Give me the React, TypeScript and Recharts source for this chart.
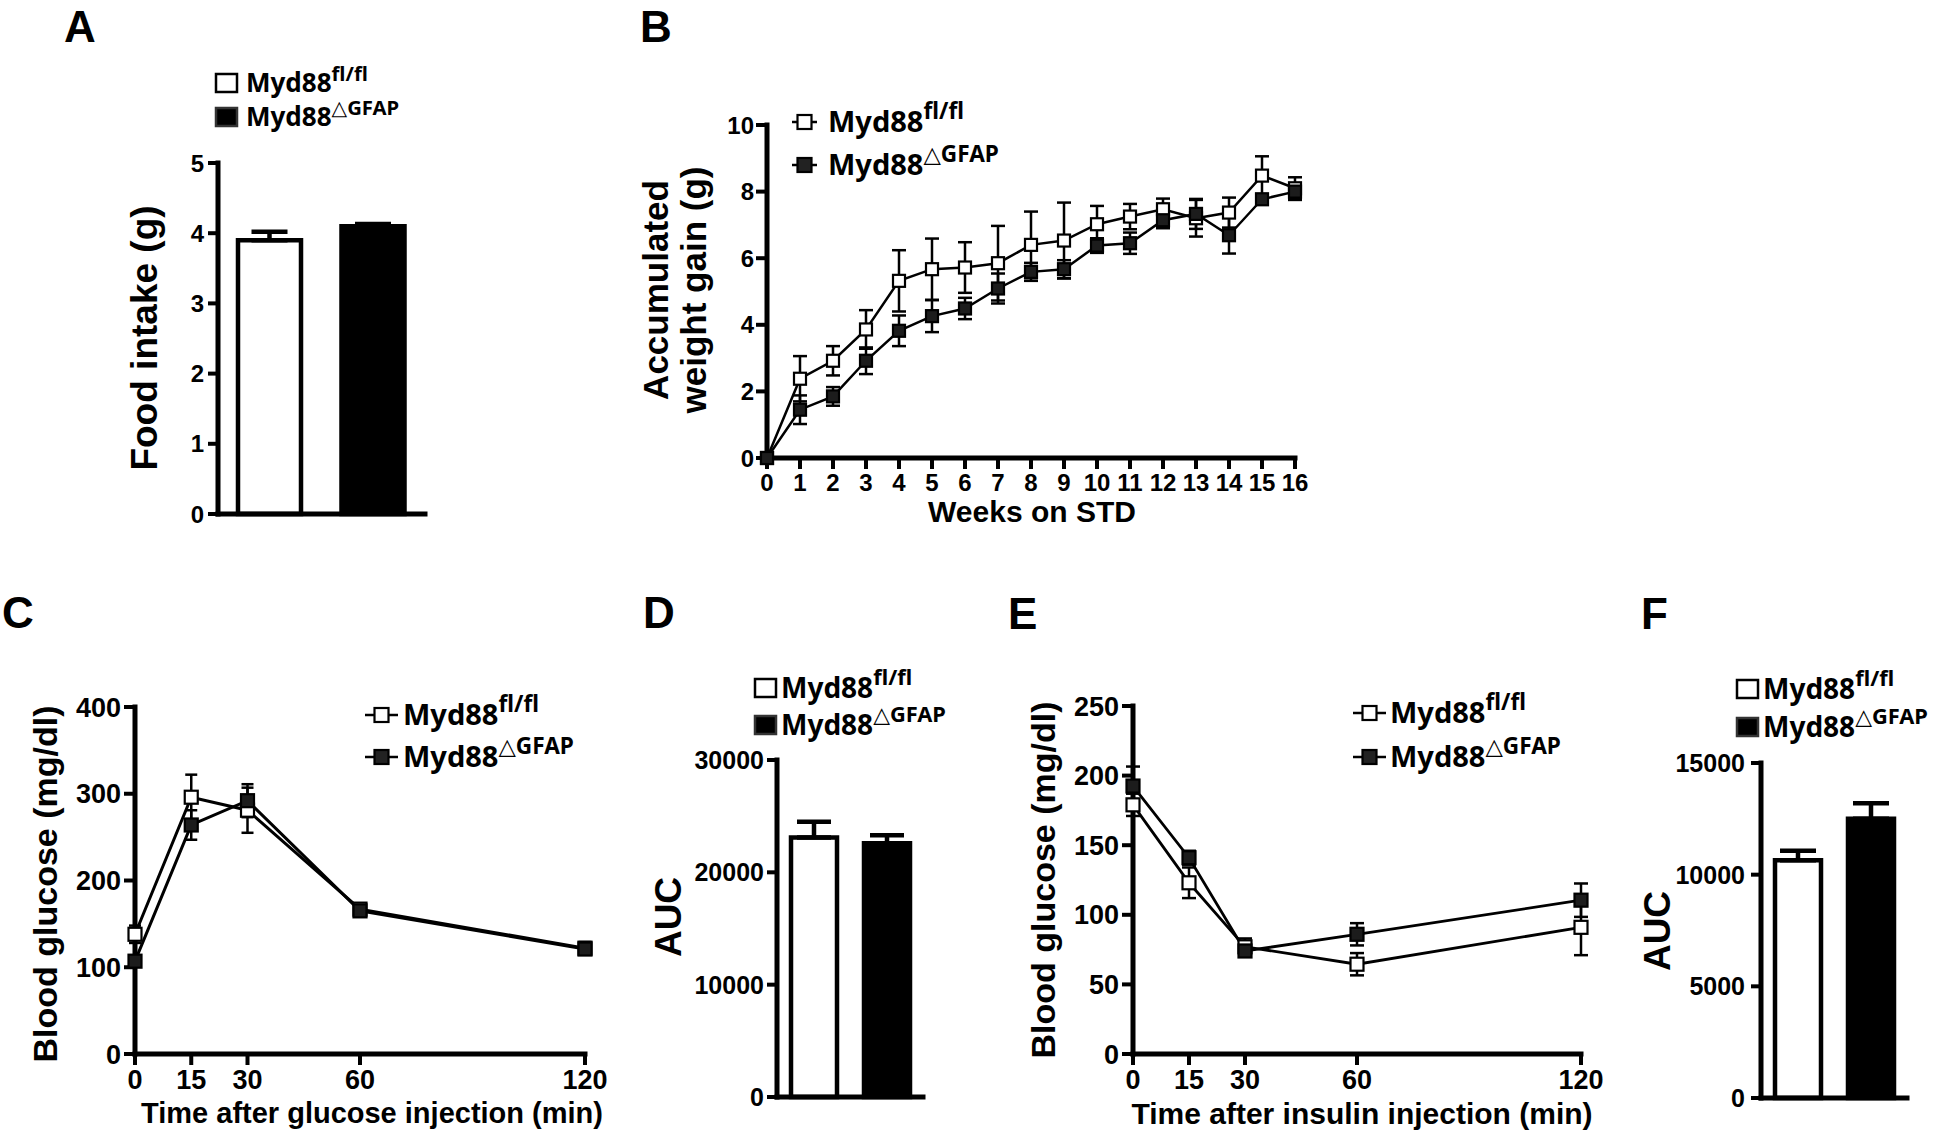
import { BarChart, Bar, Cell, ErrorBar, Label, Line, LineChart, XAxis, YAxis } from 'recharts'

const PAGE_W = 1946
const PAGE_H = 1133
const Y_AXIS_W = 90
const X_AXIS_H = 30
const AXIS_FONT = '"Liberation Sans", Arial, Helvetica, sans-serif'
const KEY_FONT = '"Noto Sans", "Open Sans", "DejaVu Sans", sans-serif'

// genotype superscripts, always written after "Myd88"
const GENOTYPES = ['fl/fl', '△GFAP']

// A - food intake
const FOOD_INTAKE = [3.9, 4.1]
const FOOD_INTAKE_SEM = [0.12, 0.03]
const FOOD_TICKS = [0, 1, 2, 3, 4, 5]

// B - weight gain on STD
const WEEKS = [0, 1, 2, 3, 4, 5, 6, 7, 8, 9, 10, 11, 12, 13, 14, 15, 16]
const WEIGHT_FL = [0, 2.38, 2.92, 3.86, 5.32, 5.67, 5.72, 5.85, 6.4, 6.53, 7.02, 7.25, 7.47, 7.2, 7.37, 8.48, 8.1]
const WEIGHT_FL_SEM = [0, 0.68, 0.44, 0.58, 0.92, 0.92, 0.76, 1.12, 1.0, 1.14, 0.55, 0.38, 0.32, 0.55, 0.45, 0.58, 0.33]
const WEIGHT_KO = [0, 1.45, 1.85, 2.92, 3.82, 4.26, 4.49, 5.09, 5.59, 5.67, 6.38, 6.45, 7.14, 7.33, 6.69, 7.77, 8.0]
const WEIGHT_KO_SEM = [0, 0.43, 0.28, 0.4, 0.46, 0.48, 0.32, 0.45, 0.27, 0.27, 0.22, 0.32, 0.24, 0.45, 0.55, 0.15, 0.25]
const WEIGHT_TICKS = [0, 2, 4, 6, 8, 10]

// C/D - glucose tolerance
const GTT_MIN = [0, 15, 30, 60, 120]
const GTT_FL = [138, 296, 281, 167, 122]
const GTT_FL_SEM = [10, 26, 26, 5, 7]
const GTT_KO = [107, 264, 292, 165, 121]
const GTT_KO_SEM = [5, 17, 19, 4, 6]
const GTT_TICKS = [0, 100, 200, 300, 400]
const GTT_AUC = [23100, 22600]
const GTT_AUC_SEM = [1400, 700]
const GTT_AUC_TICKS = [0, 10000, 20000, 30000]

// E/F - insulin tolerance
const ITT_MIN = [0, 15, 30, 60, 120]
const ITT_FL = [179, 123, 77, 64.5, 91]
const ITT_FL_SEM = [8, 11, 6, 8, 20]
const ITT_KO = [192.5, 141, 74, 86, 110.5]
const ITT_KO_SEM = [14, 5, 4, 8, 12]
const ITT_TICKS = [0, 50, 100, 150, 200, 250]
const ITT_AUC = [10650, 12500]
const ITT_AUC_SEM = [420, 700]
const ITT_AUC_TICKS = [0, 5000, 10000, 15000]

type Frame = { x0: number; x1: number; y0: number; y1: number }

// every chart covers the page, margins put the plot where the panel sits
const marginFor = (f: Frame) => ({
  top: f.y0,
  right: PAGE_W - f.x1,
  bottom: PAGE_H - f.y1 - X_AXIS_H,
  left: f.x0 - Y_AXIS_W,
})

const layer = { position: 'absolute' as const, left: 0, top: 0 }
const axisStroke = (w: number) => ({ stroke: '#000', strokeWidth: w, strokeLinecap: 'square' as const })
const tickStroke = { stroke: '#000', strokeWidth: 4 }
const tickText = (size: number) => ({ fill: '#000', fontSize: size, fontWeight: 700, fontFamily: AXIS_FONT })

const sideTitle = (lines: string[], cx: number, cy: number, size: number, gap = 0) => () => (
  <text
    transform={`translate(${cx} ${cy}) rotate(-90)`}
    textAnchor="middle"
    fontFamily={AXIS_FONT}
    fontWeight={700}
    fontSize={size}
    fill="#000"
  >
    {lines.map((t, i) => (
      <tspan key={t} x={0} y={(i - (lines.length - 1) / 2) * gap} dy="0.36em">
        {t}
      </tspan>
    ))}
  </text>
)

const baseTitle = (text: string, cx: number, cy: number, size: number) => () => (
  <text x={cx} y={cy} dy="0.36em" textAnchor="middle" fontFamily={AXIS_FONT} fontWeight={700} fontSize={size} fill="#000">
    {text}
  </text>
)

const squareDot = (filled: boolean, size: number) => (p: any) => (
  <rect
    key={`dot-${p.index}`}
    x={p.cx - size / 2}
    y={p.cy - size / 2}
    width={size}
    height={size}
    fill={filled ? '#1c1c1c' : '#fff'}
    stroke="#000"
    strokeWidth={2.2}
  />
)

function BarPanel({ frame, means, sems, ticks, fontSize, tickGap, barSize, cap, title }: any) {
  const rows = means.map((mean: number, i: number) => ({ group: GENOTYPES[i], mean, sem: sems[i] }))
  return (
    <div style={layer}>
      <BarChart width={PAGE_W} height={PAGE_H} data={rows} margin={marginFor(frame)}>
        <XAxis dataKey="group" height={X_AXIS_H} tick={false} tickLine={false} axisLine={axisStroke(5)} />
        <YAxis
          width={Y_AXIS_W}
          domain={[0, ticks[ticks.length - 1]]}
          ticks={ticks}
          interval={0}
          axisLine={axisStroke(5)}
          tickLine={tickStroke}
          tickSize={10}
          tickMargin={tickGap}
          tick={tickText(fontSize)}
        >
          <Label content={title} />
        </YAxis>
        <Bar dataKey="mean" barSize={barSize} stroke="#000" strokeWidth={4.5} isAnimationActive={false}>
          {rows.map((r: any, i: number) => (
            <Cell key={r.group} fill={i === 0 ? '#fff' : '#000'} />
          ))}
          <ErrorBar dataKey={(d: any) => [0, d.sem]} width={cap} strokeWidth={4.5} stroke="#000" direction="y" />
        </Bar>
      </BarChart>
    </div>
  )
}

function LinePanel(props: any) {
  const { frame, xs, xTicks, yTicks, fl, flSem, ko, koSem, fontSize, xTickGap, yTickGap, dotSize, cap, lineW, xTitle, yTitle } = props
  const rows = xs.map((x: number, i: number) => ({ x, fl: fl[i], flSem: flSem[i], ko: ko[i], koSem: koSem[i] }))
  return (
    <div style={layer}>
      <LineChart width={PAGE_W} height={PAGE_H} data={rows} margin={marginFor(frame)}>
        <XAxis
          type="number"
          dataKey="x"
          domain={[xTicks[0], xTicks[xTicks.length - 1]]}
          ticks={xTicks}
          interval={0}
          height={X_AXIS_H}
          axisLine={axisStroke(5)}
          tickLine={tickStroke}
          tickSize={11}
          tickMargin={xTickGap}
          tick={tickText(fontSize)}
        >
          <Label content={xTitle} />
        </XAxis>
        <YAxis
          type="number"
          width={Y_AXIS_W}
          domain={[0, yTicks[yTicks.length - 1]]}
          ticks={yTicks}
          interval={0}
          axisLine={axisStroke(5)}
          tickLine={tickStroke}
          tickSize={11}
          tickMargin={yTickGap}
          tick={tickText(fontSize)}
        >
          <Label content={yTitle} />
        </YAxis>
        <Line dataKey="fl" stroke="#000" strokeWidth={lineW} dot={squareDot(false, dotSize)} activeDot={false} isAnimationActive={false}>
          <ErrorBar dataKey="flSem" width={cap} strokeWidth={2.5} stroke="#000" direction="y" />
        </Line>
        <Line dataKey="ko" stroke="#000" strokeWidth={lineW} dot={squareDot(true, dotSize)} activeDot={false} isAnimationActive={false}>
          <ErrorBar dataKey="koSem" width={cap} strokeWidth={2.5} stroke="#000" direction="y" />
        </Line>
      </LineChart>
    </div>
  )
}

function KeyEntry({ kind, x, y, len, textX, size, sup, filled }: any) {
  const marker =
    kind === 'box' ? (
      <rect x={x} y={y - 9} width={21} height={18} fill={filled ? '#000' : '#fff'} stroke={filled ? '#333' : '#000'} strokeWidth={2.5} />
    ) : (
      <g>
        <line x1={x} x2={x + len} y1={y} y2={y} stroke="#000" strokeWidth={2.5} />
        <rect x={x + len / 2 - 7} y={y - 7} width={14} height={14} fill={filled ? '#222' : '#fff'} stroke="#000" strokeWidth={2.2} />
      </g>
    )
  return (
    <g>
      {marker}
      <text x={textX} y={y + size * 0.36} fontFamily={KEY_FONT} fontWeight={700} fontSize={size} fill="#000">
        Myd88
        <tspan dy={-size * 0.45} fontSize={size * 0.78}>
          {sup}
        </tspan>
      </text>
    </g>
  )
}

const KEYS = [
  { kind: 'box', x: 216, rows: [83, 117], textX: 246, size: 26 },
  { kind: 'line', x: 792, len: 25, rows: [122, 165], textX: 828, size: 29 },
  { kind: 'line', x: 365, len: 33, rows: [715, 757], textX: 403, size: 29 },
  { kind: 'box', x: 755, rows: [688, 725], textX: 781, size: 28 },
  { kind: 'line', x: 1353, len: 33, rows: [713, 757], textX: 1390, size: 29 },
  { kind: 'box', x: 1737, rows: [689, 727], textX: 1763, size: 28 },
]

const LETTERS: [string, number, number][] = [
  ['A', 64, 42],
  ['B', 640, 42],
  ['C', 2, 628],
  ['D', 643, 628],
  ['E', 1008, 629],
  ['F', 1641, 629],
]

function Overlay() {
  return (
    <svg width={PAGE_W} height={PAGE_H} style={layer}>
      {LETTERS.map(([t, x, y]) => (
        <text key={t} x={x} y={y} fontFamily={AXIS_FONT} fontWeight={700} fontSize={44} fill="#000">
          {t}
        </text>
      ))}
      {KEYS.map((k, i) =>
        GENOTYPES.map((sup, j) => (
          <KeyEntry key={`${i}-${j}`} {...k} y={k.rows[j]} sup={sup} filled={j === 1} />
        )),
      )}
    </svg>
  )
}

export default function App() {
  return (
    <div style={{ ...layer, width: PAGE_W, height: PAGE_H, background: '#fff' }}>
      <BarPanel
        frame={{ x0: 218, x1: 425, y0: 163, y1: 514 }}
        means={FOOD_INTAKE}
        sems={FOOD_INTAKE_SEM}
        ticks={FOOD_TICKS}
        fontSize={24}
        tickGap={4}
        barSize={63}
        cap={18}
        title={sideTitle(['Food intake (g)'], 144, 338, 37)}
      />
      <LinePanel
        frame={{ x0: 767, x1: 1295, y0: 125, y1: 458 }}
        xs={WEEKS}
        xTicks={WEEKS}
        yTicks={WEIGHT_TICKS}
        fl={WEIGHT_FL}
        flSem={WEIGHT_FL_SEM}
        ko={WEIGHT_KO}
        koSem={WEIGHT_KO_SEM}
        fontSize={24}
        xTickGap={5}
        yTickGap={2}
        dotSize={12}
        cap={7}
        lineW={2.5}
        xTitle={baseTitle('Weeks on STD', 1032, 511, 30)}
        yTitle={sideTitle(['Accumulated', 'weight gain (g)'], 674, 290, 35, 38)}
      />
      <LinePanel
        frame={{ x0: 135, x1: 585, y0: 707, y1: 1054 }}
        xs={GTT_MIN}
        xTicks={GTT_MIN}
        yTicks={GTT_TICKS}
        fl={GTT_FL}
        flSem={GTT_FL_SEM}
        ko={GTT_KO}
        koSem={GTT_KO_SEM}
        fontSize={27}
        xTickGap={5}
        yTickGap={3}
        dotSize={13}
        cap={6}
        lineW={3}
        xTitle={baseTitle('Time after glucose injection (min)', 372, 1113, 29)}
        yTitle={sideTitle(['Blood glucose (mg/dl)'], 45, 884, 34)}
      />
      <BarPanel
        frame={{ x0: 777, x1: 923, y0: 760, y1: 1097 }}
        means={GTT_AUC}
        sems={GTT_AUC_SEM}
        ticks={GTT_AUC_TICKS}
        fontSize={25}
        tickGap={3}
        barSize={46}
        cap={17}
        title={sideTitle(['AUC'], 668, 917, 37)}
      />
      <LinePanel
        frame={{ x0: 1133, x1: 1581, y0: 706, y1: 1054 }}
        xs={ITT_MIN}
        xTicks={ITT_MIN}
        yTicks={ITT_TICKS}
        fl={ITT_FL}
        flSem={ITT_FL_SEM}
        ko={ITT_KO}
        koSem={ITT_KO_SEM}
        fontSize={27}
        xTickGap={5}
        yTickGap={3}
        dotSize={13}
        cap={7}
        lineW={2.8}
        xTitle={baseTitle('Time after insulin injection (min)', 1362, 1113, 30)}
        yTitle={sideTitle(['Blood glucose (mg/dl)'], 1043, 880, 34)}
      />
      <BarPanel
        frame={{ x0: 1761, x1: 1907, y0: 763, y1: 1098 }}
        means={ITT_AUC}
        sems={ITT_AUC_SEM}
        ticks={ITT_AUC_TICKS}
        fontSize={25}
        tickGap={6}
        barSize={46}
        cap={18}
        title={sideTitle(['AUC'], 1657, 931, 37)}
      />
      <Overlay />
    </div>
  )
}
